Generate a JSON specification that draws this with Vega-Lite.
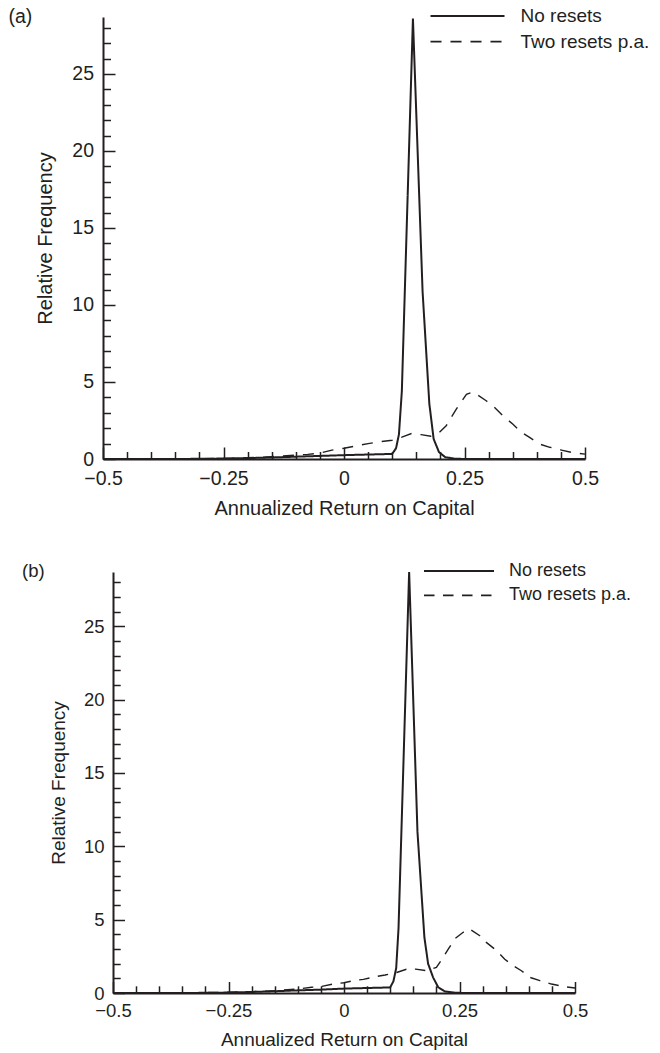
{
  "$schema": "https://vega.github.io/schema/vega-lite/v6.json",
  "padding": {"left": 8, "top": 6, "right": 0, "bottom": 2},
  "background": "white",
  "config": {
    "font": "Liberation Sans",
    "view": {"stroke": null},
    "axis": {
      "grid": false,
      "domainColor": "#231f20",
      "domainWidth": 2,
      "tickColor": "#231f20",
      "tickWidth": 1.5,
      "labelColor": "#231f20",
      "titleColor": "#231f20",
      "titleFontWeight": "normal",
      "labelFont": "Liberation Sans",
      "titleFont": "Liberation Sans",
      "labelOverlap": false,
      "labelFlush": false
    },
    "legend": {
      "orient": "none",
      "symbolType": "stroke",
      "padding": 0,
      "labelColor": "#231f20",
      "labelFont": "Liberation Sans",
      "symbolStrokeColor": "#231f20",
      "symbolStrokeWidth": 1.8,
      "labelLimit": 0,
      "symbolOffset": 0
    }
  },
  "datasets": {
    "a": [
      {"series": "No resets", "x": -0.5, "y": 0},
      {"series": "No resets", "x": -0.4, "y": 0},
      {"series": "No resets", "x": -0.3, "y": 0.01},
      {"series": "No resets", "x": -0.25, "y": 0.03},
      {"series": "No resets", "x": -0.2, "y": 0.06},
      {"series": "No resets", "x": -0.15, "y": 0.1},
      {"series": "No resets", "x": -0.1, "y": 0.15},
      {"series": "No resets", "x": -0.05, "y": 0.2},
      {"series": "No resets", "x": 0, "y": 0.25},
      {"series": "No resets", "x": 0.05, "y": 0.29},
      {"series": "No resets", "x": 0.1, "y": 0.33},
      {"series": "No resets", "x": 0.108, "y": 0.7},
      {"series": "No resets", "x": 0.114, "y": 1.6},
      {"series": "No resets", "x": 0.12, "y": 4.4},
      {"series": "No resets", "x": 0.143, "y": 28.6},
      {"series": "No resets", "x": 0.163, "y": 10.9},
      {"series": "No resets", "x": 0.177, "y": 3.6},
      {"series": "No resets", "x": 0.186, "y": 1.3},
      {"series": "No resets", "x": 0.197, "y": 0.45},
      {"series": "No resets", "x": 0.21, "y": 0.12},
      {"series": "No resets", "x": 0.23, "y": 0.02},
      {"series": "No resets", "x": 0.25, "y": 0},
      {"series": "No resets", "x": 0.3, "y": 0},
      {"series": "No resets", "x": 0.4, "y": 0},
      {"series": "No resets", "x": 0.5, "y": 0},
      {"series": "Two resets p.a.", "x": -0.5, "y": 0},
      {"series": "Two resets p.a.", "x": -0.4, "y": 0.01},
      {"series": "Two resets p.a.", "x": -0.3, "y": 0.02},
      {"series": "Two resets p.a.", "x": -0.25, "y": 0.04},
      {"series": "Two resets p.a.", "x": -0.2, "y": 0.08},
      {"series": "Two resets p.a.", "x": -0.15, "y": 0.15},
      {"series": "Two resets p.a.", "x": -0.1, "y": 0.25},
      {"series": "Two resets p.a.", "x": -0.075, "y": 0.3},
      {"series": "Two resets p.a.", "x": -0.05, "y": 0.38},
      {"series": "Two resets p.a.", "x": -0.025, "y": 0.58},
      {"series": "Two resets p.a.", "x": 0, "y": 0.7},
      {"series": "Two resets p.a.", "x": 0.025, "y": 0.85},
      {"series": "Two resets p.a.", "x": 0.05, "y": 1.0},
      {"series": "Two resets p.a.", "x": 0.075, "y": 1.12},
      {"series": "Two resets p.a.", "x": 0.1, "y": 1.22},
      {"series": "Two resets p.a.", "x": 0.12, "y": 1.42},
      {"series": "Two resets p.a.", "x": 0.14, "y": 1.65},
      {"series": "Two resets p.a.", "x": 0.16, "y": 1.58},
      {"series": "Two resets p.a.", "x": 0.18, "y": 1.48},
      {"series": "Two resets p.a.", "x": 0.198, "y": 1.73},
      {"series": "Two resets p.a.", "x": 0.212, "y": 2.16},
      {"series": "Two resets p.a.", "x": 0.233, "y": 3.24},
      {"series": "Two resets p.a.", "x": 0.254, "y": 4.2},
      {"series": "Two resets p.a.", "x": 0.268, "y": 4.35},
      {"series": "Two resets p.a.", "x": 0.295, "y": 3.78},
      {"series": "Two resets p.a.", "x": 0.309, "y": 3.46},
      {"series": "Two resets p.a.", "x": 0.33, "y": 2.8},
      {"series": "Two resets p.a.", "x": 0.35, "y": 2.27},
      {"series": "Two resets p.a.", "x": 0.368, "y": 1.73},
      {"series": "Two resets p.a.", "x": 0.385, "y": 1.4},
      {"series": "Two resets p.a.", "x": 0.406, "y": 0.97},
      {"series": "Two resets p.a.", "x": 0.427, "y": 0.76},
      {"series": "Two resets p.a.", "x": 0.451, "y": 0.58},
      {"series": "Two resets p.a.", "x": 0.475, "y": 0.41},
      {"series": "Two resets p.a.", "x": 0.5, "y": 0.32}
    ],
    "b": [
      {"series": "No resets", "x": -0.5, "y": 0},
      {"series": "No resets", "x": -0.4, "y": 0},
      {"series": "No resets", "x": -0.3, "y": 0.01},
      {"series": "No resets", "x": -0.25, "y": 0.03},
      {"series": "No resets", "x": -0.2, "y": 0.07},
      {"series": "No resets", "x": -0.15, "y": 0.12},
      {"series": "No resets", "x": -0.1, "y": 0.18},
      {"series": "No resets", "x": -0.05, "y": 0.23},
      {"series": "No resets", "x": 0, "y": 0.3},
      {"series": "No resets", "x": 0.05, "y": 0.34},
      {"series": "No resets", "x": 0.1, "y": 0.38},
      {"series": "No resets", "x": 0.107, "y": 0.8},
      {"series": "No resets", "x": 0.113, "y": 1.7},
      {"series": "No resets", "x": 0.118, "y": 4.4},
      {"series": "No resets", "x": 0.141, "y": 28.7},
      {"series": "No resets", "x": 0.159, "y": 11},
      {"series": "No resets", "x": 0.174, "y": 3.8},
      {"series": "No resets", "x": 0.182, "y": 2.0},
      {"series": "No resets", "x": 0.193, "y": 1.05},
      {"series": "No resets", "x": 0.204, "y": 0.39},
      {"series": "No resets", "x": 0.218, "y": 0.11},
      {"series": "No resets", "x": 0.24, "y": 0.02},
      {"series": "No resets", "x": 0.26, "y": 0},
      {"series": "No resets", "x": 0.3, "y": 0},
      {"series": "No resets", "x": 0.4, "y": 0},
      {"series": "No resets", "x": 0.5, "y": 0},
      {"series": "Two resets p.a.", "x": -0.5, "y": 0},
      {"series": "Two resets p.a.", "x": -0.4, "y": 0.01},
      {"series": "Two resets p.a.", "x": -0.3, "y": 0.03},
      {"series": "Two resets p.a.", "x": -0.25, "y": 0.05},
      {"series": "Two resets p.a.", "x": -0.2, "y": 0.09},
      {"series": "Two resets p.a.", "x": -0.15, "y": 0.16},
      {"series": "Two resets p.a.", "x": -0.1, "y": 0.27},
      {"series": "Two resets p.a.", "x": -0.07, "y": 0.39},
      {"series": "Two resets p.a.", "x": -0.048, "y": 0.45},
      {"series": "Two resets p.a.", "x": -0.025, "y": 0.6},
      {"series": "Two resets p.a.", "x": 0, "y": 0.7},
      {"series": "Two resets p.a.", "x": 0.02, "y": 0.84},
      {"series": "Two resets p.a.", "x": 0.042, "y": 0.93},
      {"series": "Two resets p.a.", "x": 0.067, "y": 1.11},
      {"series": "Two resets p.a.", "x": 0.089, "y": 1.23},
      {"series": "Two resets p.a.", "x": 0.114, "y": 1.4},
      {"series": "Two resets p.a.", "x": 0.135, "y": 1.62},
      {"series": "Two resets p.a.", "x": 0.155, "y": 1.63},
      {"series": "Two resets p.a.", "x": 0.18, "y": 1.52},
      {"series": "Two resets p.a.", "x": 0.2, "y": 1.75},
      {"series": "Two resets p.a.", "x": 0.212, "y": 2.3},
      {"series": "Two resets p.a.", "x": 0.226, "y": 3.0},
      {"series": "Two resets p.a.", "x": 0.24, "y": 3.7},
      {"series": "Two resets p.a.", "x": 0.258, "y": 4.14},
      {"series": "Two resets p.a.", "x": 0.272, "y": 4.36},
      {"series": "Two resets p.a.", "x": 0.294, "y": 3.9},
      {"series": "Two resets p.a.", "x": 0.308, "y": 3.45},
      {"series": "Two resets p.a.", "x": 0.33, "y": 2.9},
      {"series": "Two resets p.a.", "x": 0.348, "y": 2.3},
      {"series": "Two resets p.a.", "x": 0.366, "y": 1.86},
      {"series": "Two resets p.a.", "x": 0.384, "y": 1.52},
      {"series": "Two resets p.a.", "x": 0.402, "y": 1.07},
      {"series": "Two resets p.a.", "x": 0.424, "y": 0.84},
      {"series": "Two resets p.a.", "x": 0.449, "y": 0.61},
      {"series": "Two resets p.a.", "x": 0.478, "y": 0.43},
      {"series": "Two resets p.a.", "x": 0.5, "y": 0.34}
    ]
  },
  "vconcat": [
    {
      "width": 482,
      "height": 442,
      "data": {"name": "a"},
      "layer": [
        {
          "transform": [{"filter": "datum.series === 'No resets'"}],
          "mark": {"type": "line", "color": "#231f20", "strokeWidth": 2},
          "encoding": {
            "x": {
              "field": "x", "type": "quantitative",
              "scale": {"domain": [-0.5, 0.5], "nice": false, "zero": false},
              "axis": {"orient": "bottom", "title": "Annualized Return on Capital", "values": [-0.5, -0.25, 0, 0.25, 0.5], "format": ".2~f", "tickSize": -12, "labelPadding": 22, "labelFontSize": 19.5, "titleFontSize": 20, "titlePadding": 11}
            },
            "y": {
              "field": "y", "type": "quantitative",
              "scale": {"domain": [0, 28.7], "nice": false},
              "axis": {"orient": "left", "title": "Relative Frequency", "values": [0, 5, 10, 15, 20, 25], "format": "d", "tickSize": -12, "labelPadding": 21.5, "labelFontSize": 19.5, "titleFontSize": 20, "titlePadding": 16}
            },
            "strokeDash": {
              "field": "series", "type": "nominal",
              "scale": {"domain": ["No resets", "Two resets p.a."], "range": [[1, 0], [11, 9]]},
              "legend": {"title": null, "legendX": 326.5, "legendY": -11, "symbolSize": 5476, "clipHeight": 20, "rowPadding": 5.7, "labelOffset": 15, "labelFontSize": 19}
            }
          }
        },
        {
          "transform": [{"filter": "datum.series === 'Two resets p.a.'"}],
          "mark": {"type": "line", "color": "#231f20", "strokeWidth": 1.4},
          "encoding": {
            "x": {
              "field": "x", "type": "quantitative",
              "axis": {"orient": "bottom", "title": null, "values": [-0.45, -0.4, -0.35, -0.3, -0.2, -0.15, -0.1, -0.05, 0.05, 0.1, 0.15, 0.2, 0.3, 0.35, 0.4, 0.45], "labels": false, "domain": false, "tickSize": -7.5}
            },
            "y": {
              "field": "y", "type": "quantitative",
              "axis": {"orient": "left", "title": null, "values": [1, 2, 3, 4, 6, 7, 8, 9, 11, 12, 13, 14, 16, 17, 18, 19, 21, 22, 23, 24, 26, 27, 28], "labels": false, "domain": false, "tickSize": -7.5}
            },
            "strokeDash": {
              "field": "series", "type": "nominal",
              "scale": {"domain": ["No resets", "Two resets p.a."], "range": [[1, 0], [11, 9]]},
              "legend": {"title": null, "legendX": 326.5, "legendY": -11, "symbolSize": 5476, "clipHeight": 20, "rowPadding": 5.7, "labelOffset": 15, "labelFontSize": 19}
            }
          }
        },
        {
          "data": {"values": [{"label": "(a)"}]},
          "mark": {"type": "text", "align": "left", "baseline": "middle", "dx": -94.5, "dy": 0, "fontSize": 19.5, "color": "#231f20"},
          "encoding": {
            "x": {"datum": -0.5, "type": "quantitative", "axis": null},
            "y": {"datum": 28.7, "type": "quantitative", "axis": null},
            "text": {"field": "label"}
          }
        }
      ],
      "resolve": {"axis": {"x": "independent", "y": "independent"}}
    },
    {
      "width": 462,
      "height": 421,
      "data": {"name": "b"},
      "layer": [
        {
          "transform": [{"filter": "datum.series === 'No resets'"}],
          "mark": {"type": "line", "color": "#231f20", "strokeWidth": 2},
          "encoding": {
            "x": {
              "field": "x", "type": "quantitative",
              "scale": {"domain": [-0.5, 0.5], "nice": false, "zero": false},
              "axis": {"orient": "bottom", "title": "Annualized Return on Capital", "values": [-0.5, -0.25, 0, 0.25, 0.5], "format": ".2~f", "tickSize": -11.5, "labelPadding": 19.5, "labelFontSize": 18.5, "titleFontSize": 19, "titlePadding": 11}
            },
            "y": {
              "field": "y", "type": "quantitative",
              "scale": {"domain": [0, 28.7], "nice": false},
              "axis": {"orient": "left", "title": "Relative Frequency", "values": [0, 5, 10, 15, 20, 25], "format": "d", "tickSize": -11.5, "labelPadding": 20.5, "labelFontSize": 18.5, "titleFontSize": 19, "titlePadding": 15}
            },
            "strokeDash": {
              "field": "series", "type": "nominal",
              "scale": {"domain": ["No resets", "Two resets p.a."], "range": [[1, 0], [10.5, 8.5]]},
              "legend": {"title": null, "legendX": 310, "legendY": -10.5, "symbolSize": 4900, "clipHeight": 19, "rowPadding": 5.4, "labelOffset": 14, "labelFontSize": 18}
            }
          }
        },
        {
          "transform": [{"filter": "datum.series === 'Two resets p.a.'"}],
          "mark": {"type": "line", "color": "#231f20", "strokeWidth": 1.4},
          "encoding": {
            "x": {
              "field": "x", "type": "quantitative",
              "axis": {"orient": "bottom", "title": null, "values": [-0.45, -0.4, -0.35, -0.3, -0.2, -0.15, -0.1, -0.05, 0.05, 0.1, 0.15, 0.2, 0.3, 0.35, 0.4, 0.45], "labels": false, "domain": false, "tickSize": -7.2}
            },
            "y": {
              "field": "y", "type": "quantitative",
              "axis": {"orient": "left", "title": null, "values": [1, 2, 3, 4, 6, 7, 8, 9, 11, 12, 13, 14, 16, 17, 18, 19, 21, 22, 23, 24, 26, 27, 28], "labels": false, "domain": false, "tickSize": -7.2}
            },
            "strokeDash": {
              "field": "series", "type": "nominal",
              "scale": {"domain": ["No resets", "Two resets p.a."], "range": [[1, 0], [10.5, 8.5]]},
              "legend": {"title": null, "legendX": 310, "legendY": -10.5, "symbolSize": 4900, "clipHeight": 19, "rowPadding": 5.4, "labelOffset": 14, "labelFontSize": 18}
            }
          }
        },
        {
          "data": {"values": [{"label": "(b)"}]},
          "mark": {"type": "text", "align": "left", "baseline": "middle", "dx": -91, "dy": -1, "fontSize": 18.5, "color": "#231f20"},
          "encoding": {
            "x": {"datum": -0.5, "type": "quantitative", "axis": null},
            "y": {"datum": 28.7, "type": "quantitative", "axis": null},
            "text": {"field": "label"}
          }
        }
      ],
      "resolve": {"axis": {"x": "independent", "y": "independent"}}
    }
  ],
  "spacing": 113,
  "bounds": "flush",
  "center": true,
  "resolve": {
    "scale": {"x": "independent", "y": "independent", "strokeDash": "independent"},
    "axis": {"x": "independent", "y": "independent"},
    "legend": {"strokeDash": "independent"}
  }
}
